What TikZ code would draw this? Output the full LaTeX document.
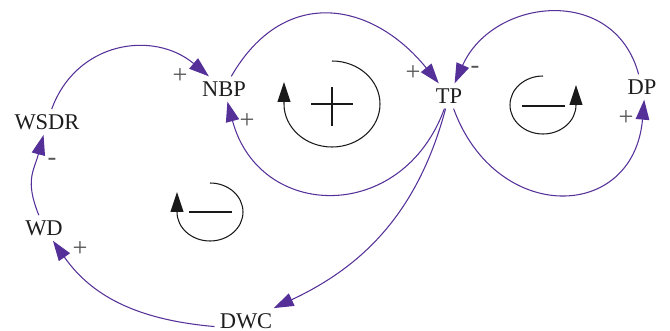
\documentclass[tikz,border=0pt]{standalone}
\usepackage{fontspec}
\setmainfont{Liberation Serif}
\usetikzlibrary{arrows.meta}
\definecolor{lnkcol}{RGB}{84,48,152}
\definecolor{labgray}{RGB}{85,85,85}
\definecolor{txtcol}{RGB}{30,30,30}
\tikzset{
  vnode/.style={font=\fontsize{12.8}{15}\selectfont, text=txtcol, inner sep=2.8pt},
  lnk/.style={-{Triangle[length=4mm,width=2.7mm]}, lnkcol, line width=0.6pt},
  plab/.style={font=\fontsize{15}{17}\selectfont, text=labgray, inner sep=0pt},
  larc/.style={-{Triangle[length=4mm,width=2.6mm]}, black!90, line width=0.6pt},
  lsgn/.style={black!90, line width=1.7pt},
}

\begin{document}
\begin{tikzpicture}[x=0.2mm,y=0.2mm]
\useasboundingbox (0,0) rectangle (670,331);
% variables
\node[vnode] (wsdr) at (47,209) {WSDR};
\node[vnode] (nbp) at (224,242) {NBP};
\node[vnode] (tp) at (449,235) {TP};
\node[vnode] (dp) at (642,244) {DP};
\node[vnode] (wd) at (44,103) {WD};
\node[vnode] (dwc) at (246,10) {DWC};
% links
\draw[lnk] (wsdr) to[out=70,in=140,looseness=1.15] (nbp);
\draw[lnk] (wd) to[out=112,in=255,looseness=1.2] (wsdr);
\draw[lnk] (dwc.190) to[out=175,in=-55] (wd);
\draw[lnk] (tp) to[out=255,in=25] (dwc);
\draw[lnk] (tp) to[out=250,in=-75,looseness=1.45] (nbp);
\draw[lnk] (nbp) to[out=60,in=129,looseness=1.3] (tp);
\draw[lnk] (dp) to[out=105,in=66,looseness=1.3] (tp);
\draw[lnk] (tp) to[out=290,in=265,looseness=1.65] (dp.280);
% polarities
\node[plab] (pwn) at (180,255) {+};
\node[plab] (ptn) at (247,210) {+};
\node[plab] (pww) at (52,169) {-};
\node[plab] (pdw) at (80,82) {+};
\node[plab] (pnt) at (413,258) {+};
\node[plab] (pdt) at (475,261) {-};
\node[plab] (ptd) at (626,213) {+};
% loop markers
\draw[larc] (332,270) arc[start angle=90,end angle=-180,x radius=48,y radius=43] -- ++(0,22);
\draw[lsgn] (311,227) -- (353,227) (332,205) -- (332,244);
\draw[larc] (543,255) arc[start angle=90,end angle=360,x radius=33,y radius=29] -- ++(0,20);
\draw[lsgn] (522,225) -- (565,225);
\draw[larc] (210,148) arc[start angle=90,end angle=-180,x radius=33,y radius=29] -- ++(0,20);
\draw[lsgn] (189,119) -- (232,119);
\end{tikzpicture}
\end{document}
